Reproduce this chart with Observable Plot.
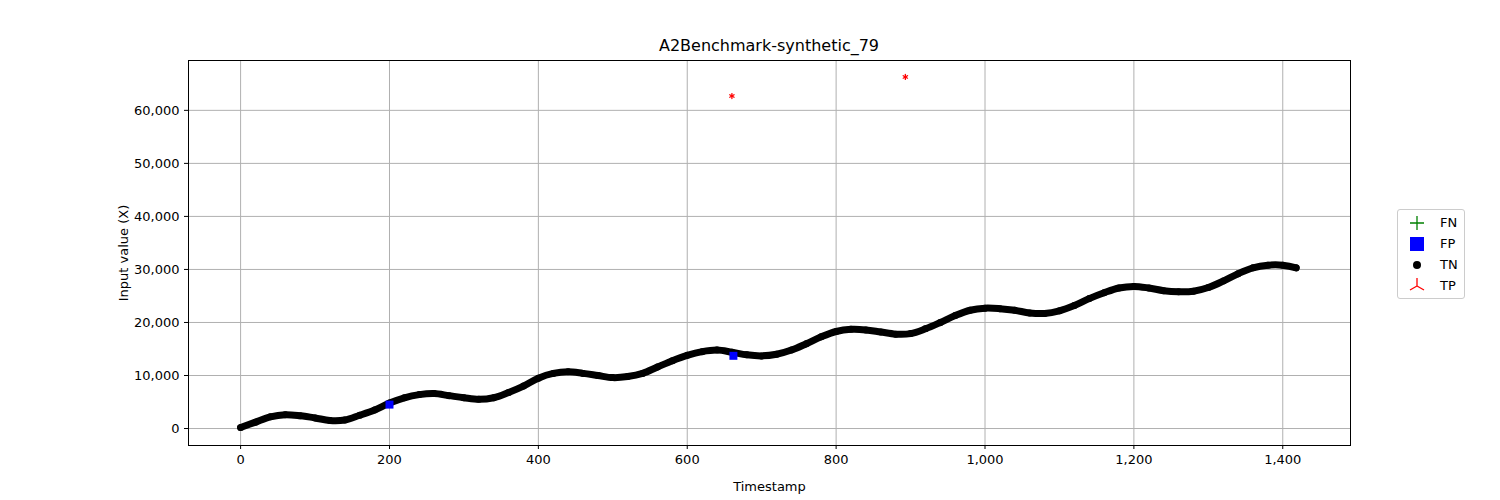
<!DOCTYPE html>
<html>
<head>
<meta charset="utf-8">
<script src="https://cdn.jsdelivr.net/npm/d3@7"></script>
<script src="https://cdn.jsdelivr.net/npm/@observablehq/plot@0.6"></script>
<style>
  body { margin: 0; background: #fff; font-family: "DejaVu Sans", sans-serif; }
  #wrap { position: relative; width: 1500px; height: 500px; }
  #title { position: absolute; left: 188px; width: 1162px; top: 36px; text-align: center; font-size: 16px; }
  #chart { position: absolute; left: 0; top: 50px; }
  #legend { position: absolute; left: 1397px; top: 209px; width: 66px; border: 1px solid #ccc; border-radius: 3px; background: #fff; font-size: 13px; padding: 2px 0; }
  #legend div { display: flex; align-items: center; height: 21px; }
  #legend svg { width: 30px; height: 18px; margin-left: 4px; margin-right: 8px; }
</style>
</head>
<body>
<div id="wrap">
  <div id="title">A2Benchmark-synthetic_79</div>
  <div id="chart"></div>
  <div id="legend">
    <div><svg viewBox="0 0 30 18"><path d="M15 2V16M8 9H22" stroke="green" stroke-width="1.3"/></svg>FN</div>
    <div><svg viewBox="0 0 30 18"><rect x="8" y="2" width="14" height="14" fill="blue"/></svg>FP</div>
    <div><svg viewBox="0 0 30 18"><circle cx="15" cy="9" r="4" fill="black"/></svg>TN</div>
    <div><svg viewBox="0 0 30 18"><path d="M15 9V1M15 9L8 13M15 9L22 13" stroke="red" stroke-width="1.3" fill="none"/></svg>TP</div>
  </div>
</div>
<script>
// TN series, every 20 steps
const tnTime = [0,20,40,60,80,100,120,140,160,180,200,220,240,260,280,300,320,340,360,380,400,420,440,460,480,500,520,540,560,580,600,620,640,660,680,700,720,740,760,780,800,820,840,860,880,900,920,940,960,980,1000,1020,1040,1060,1080,1100,1120,1140,1160,1180,1200,1220,1240,1260,1280,1300,1320,1340,1360,1380,1400,1418];
const tnValue = [200,1200,2200,2600,2400,2000,1500,1600,2500,3500,4800,5800,6400,6600,6200,5800,5500,5800,6800,8000,9500,10400,10700,10400,10000,9600,9800,10400,11600,12800,13800,14500,14800,14400,13900,13700,14000,14800,16000,17300,18300,18700,18600,18200,17800,17900,18800,20000,21300,22300,22700,22600,22300,21800,21700,22200,23200,24500,25600,26500,26800,26500,26000,25800,25900,26600,27800,29200,30300,30800,30800,30300];

const fpTime = [200, 662];
const fpValue = [4700, 13900];

const tpTime = [660, 893];
const tpValue = [62700, 66300];

const tn = tnTime.map((t, i) => ({t, v: tnValue[i]}));
const fp = fpTime.map((t, i) => ({t, v: fpValue[i]}));
const tp = tpTime.flatMap((t, i) => [0, 120, 240].map(a => ({t, v: tpValue[i], a})));

const leg = {draw(ctx, l) { ctx.moveTo(0, 0); ctx.lineTo(0, -l); }};

const plot = Plot.plot({
  width: 1500,
  height: 450,
  marginTop: 10,
  marginBottom: 55,
  marginLeft: 188,
  marginRight: 150,
  style: {fontFamily: "DejaVu Sans, sans-serif", fontSize: "13px", color: "black"},
  x: {domain: [-70, 1491], ticks: d3.range(0, 1401, 200), tickSize: 4, label: "Timestamp", labelAnchor: "center", labelArrow: "none", labelOffset: 45, tickFormat: d => d},
  y: {domain: [-3200, 69400], ticks: d3.range(0, 60001, 10000), tickSize: 4, label: "Input value (X)", labelAnchor: "center", labelArrow: "none", labelOffset: 70, tickFormat: d => d},
  marks: [
    Plot.gridX({ticks: d3.range(0, 1401, 200), stroke: "#b0b0b0", strokeOpacity: 1}),
    Plot.gridY({ticks: d3.range(0, 60001, 10000), stroke: "#b0b0b0", strokeOpacity: 1}),
    Plot.frame({stroke: "black"}),
    Plot.line(tn, {x: "t", y: "v", stroke: "black", strokeWidth: 7, curve: "catmull-rom"}),
    Plot.dot(tn, {x: "t", y: "v", r: 3.5, fill: "black"}),
    Plot.dot(fp, {x: "t", y: "v", symbol: "square", r: 4.5, fill: "blue", dy: 1}),
    Plot.vector(tp, {x: "t", y: "v", rotate: "a", length: 5, shape: leg, stroke: "red", strokeWidth: 1.3})
  ]
});
document.getElementById("chart").appendChild(plot);
</script>
</body>
</html>
